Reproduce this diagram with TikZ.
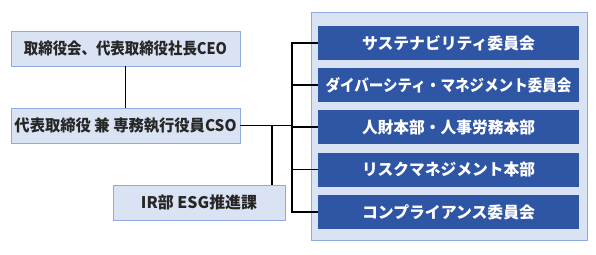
\documentclass[tikz,border=0pt]{standalone}
\usepackage{fontspec}
\usepackage{graphicx}
\setmainfont{Noto Sans CJK JP}
\newcommand\fitw[2]{\resizebox{#1}{\height}{#2}}
\definecolor{lightfill}{HTML}{DAE3F3}
\definecolor{lightline}{HTML}{8FAADC}
\definecolor{darkfill}{HTML}{2F55A5}
\begin{document}
\begin{tikzpicture}[x=1pt,y=-1pt,
  lightbox/.style={draw=lightline,fill=lightfill,line width=0.9pt,inner sep=0pt,
    font=\fontsize{16}{18}\selectfont\bfseries,text=black!85},
  darkbox/.style={fill=darkfill,inner sep=0pt,minimum width=261pt,minimum height=34pt,
    font=\fontsize{16}{18}\selectfont\bfseries,text=white},
  conn/.style={line width=1.3pt,black}]
\useasboundingbox (0,0) rectangle (596,254);
% container
\node[draw=lightline,fill=lightfill,line width=0.9pt,minimum width=276pt,minimum height=228pt,inner sep=0pt] (cont) at (449,126) {};
% left boxes
\node[lightbox,minimum width=229pt,minimum height=35pt] (ceo) at (125.5,48.5) {\fitw{203pt}{取締役会、代表取締役社長CEO}};
\node[lightbox,minimum width=229pt,minimum height=35pt] (cso) at (125.5,125.5) {\fitw{222pt}{代表取締役 兼 専務執行役員CSO}};
\node[lightbox,minimum width=172pt,minimum height=35pt] (ir) at (199,202.5) {\fitw{116pt}{IR部 ESG推進課}};
% right boxes
\node[darkbox] (r1) at (448.5,43) {\fitw{173pt}{サステナビリティ委員会}};
\node[darkbox] (r2) at (448.5,85) {\fitw{246pt}{ダイバーシティ・マネジメント委員会}};
\node[darkbox] (r3) at (448.5,127) {\fitw{173pt}{人財本部・人事労務本部}};
\node[darkbox] (r4) at (448.5,169.5) {\fitw{173pt}{リスクマネジメント本部}};
\node[darkbox] (r5) at (448.5,212) {\fitw{173pt}{コンプライアンス委員会}};
% connectors
\coordinate (bx) at (292,0);
\draw[conn] (ceo.south) -- (cso.north);
\draw[conn] (cso.east) -- (cso.east -| bx);
\draw[conn] (ir.north -| 272,0) -- (272,0 |- cso.east);
\draw[conn] (r1.west) -| (bx |- r5.west) -- (r5.west);
\draw[conn] (r2.west) -- (r2.west -| bx);
\draw[conn] (r3.west) -- (r3.west -| bx);
\draw[conn] (r4.west) -- (r4.west -| bx);
\end{tikzpicture}
\end{document}
